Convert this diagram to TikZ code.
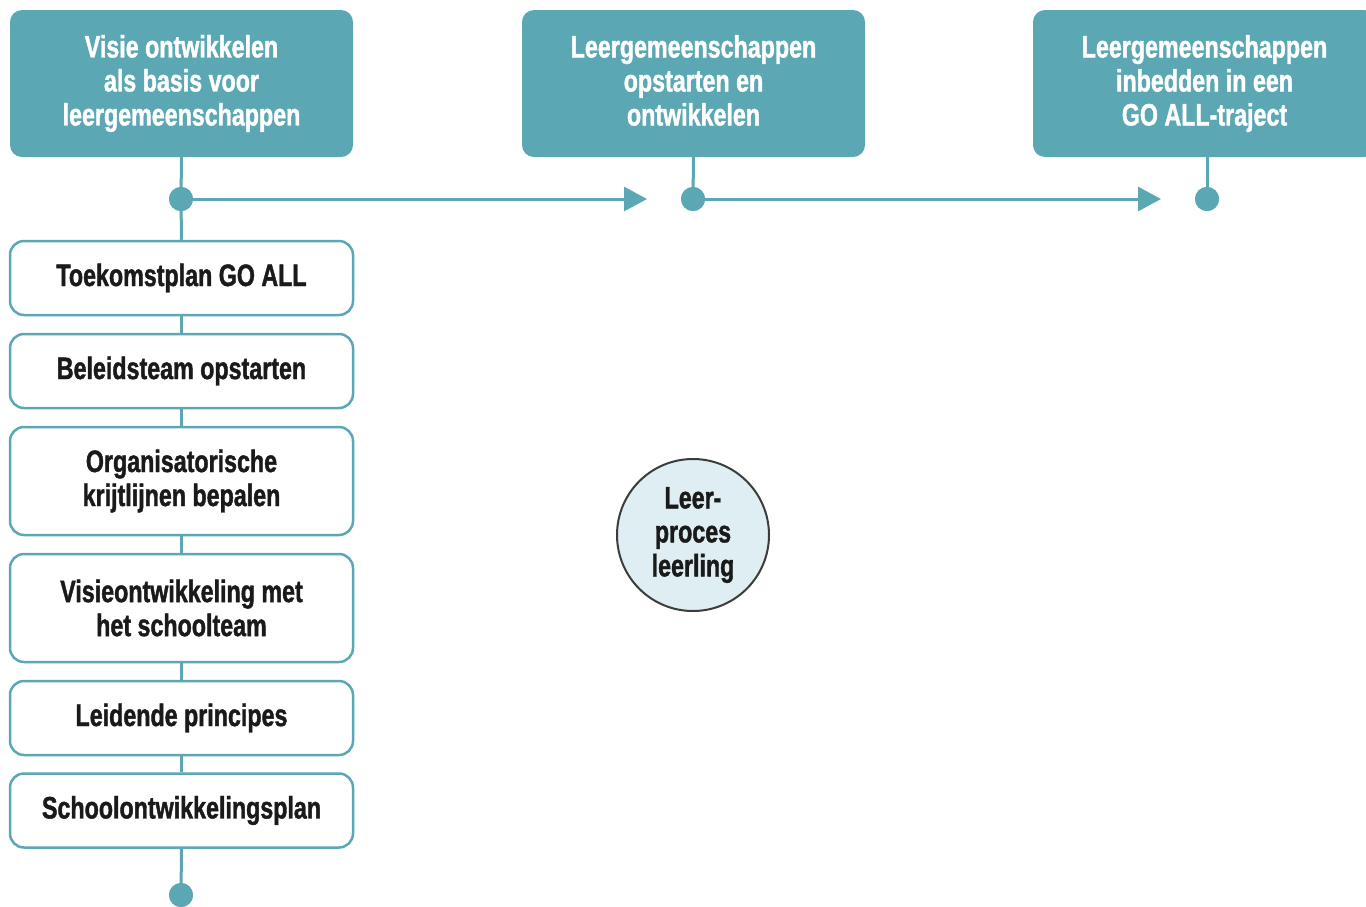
\documentclass[tikz,border=0pt]{standalone}
\usepackage{fontspec}
\setmainfont{Liberation Sans}[FakeStretch=0.75, BoldFeatures={FakeBold=1.3}]
\usetikzlibrary{arrows.meta}
\definecolor{teal1}{RGB}{91,167,179}
\definecolor{circfill}{RGB}{222,238,242}
\definecolor{ink}{RGB}{26,26,26}
\tikzset{
  head/.style={fill=teal1, rounded corners=12pt, minimum width=343pt, minimum height=147pt, inner sep=0pt, align=center, text=white, font=\bfseries\fontsize{31}{34}\selectfont},
  stepbox/.style={draw=teal1, line width=2.5pt, fill=white, rounded corners=14pt, minimum width=343pt, inner sep=0pt, align=center, text=ink, font=\bfseries\fontsize{31}{34}\selectfont},
  link/.style={draw=teal1, line width=3pt},
  dot/.style={circle, fill=teal1, minimum size=24pt, inner sep=0pt},
  arr/.style={link, -{Triangle[length=23pt,width=24pt]}}
}
\begin{document}
\begin{tikzpicture}[x=1pt,y=-1pt]
\useasboundingbox (0,0) rectangle (1366,906);
\clip (0,0) rectangle (1366,906);
% header boxes
\node[head] (h1) at (181.5,83.5) {Visie ontwikkelen\\als basis voor\\leergemeenschappen};
\node[head] (h2) at (693.5,83.5) {Leergemeenschappen\\opstarten en\\ontwikkelen\vphantom{p}};
\node[head] (h3) at (1204.5,83.5) {Leergemeenschappen\\inbedden in een\\GO ALL-traject};
% dots
\node[dot] (d1) at (181,199) {};
\node[dot] (d2) at (693,199) {};
\node[dot] (d3) at (1207,199) {};
\node[dot] (d4) at (181,895) {};
\coordinate (t1) at (647,199);
\coordinate (t2) at (1161,199);
% step boxes
\node[stepbox, minimum height=74pt] (b1) at (181.5,278) {Toekomstplan GO ALL};
\node[stepbox, minimum height=74pt] (b2) at (181.5,371) {Beleidsteam opstarten};
\node[stepbox, minimum height=108pt] (b3) at (181.5,481) {Organisatorische\\krijtlijnen bepalen};
\node[stepbox, minimum height=108pt] (b4) at (181.5,608) {Visieontwikkeling met\\het schoolteam};
\node[stepbox, minimum height=74pt] (b5) at (181.5,718) {Leidende principes};
\node[stepbox, minimum height=74pt] (b6) at (181.5,810.5) {Schoolontwikkelingsplan};
% connectors
\draw[link] (h1.south) -- (d1.center);
\draw[link] (h2.south) -- (d2.center);
\draw[link] (h3.south -| d3) -- (d3.center);
\draw[link] (d1.center) -- (b1.north);
\draw[link] (b1.south) -- (b2.north);
\draw[link] (b2.south) -- (b3.north);
\draw[link] (b3.south) -- (b4.north);
\draw[link] (b4.south) -- (b5.north);
\draw[link] (b5.south) -- (b6.north);
\draw[link] (b6.south) -- (d4.center);
\draw[arr] (d1.center) -- (t1);
\draw[arr] (d2.center) -- (t2);
% redraw dots on top
\node[dot] at (d1) {};
\node[dot] at (d2) {};
\node[dot] at (d3) {};
\node[dot] at (d4) {};
% circle
\node[circle, draw=ink!85, line width=2pt, fill=circfill, minimum size=152pt, inner sep=0pt, align=center, text=ink, font=\bfseries\fontsize{31}{34}\selectfont] (c) at (693,535) {Leer-\\proces\\leerling};
\end{tikzpicture}
\end{document}
